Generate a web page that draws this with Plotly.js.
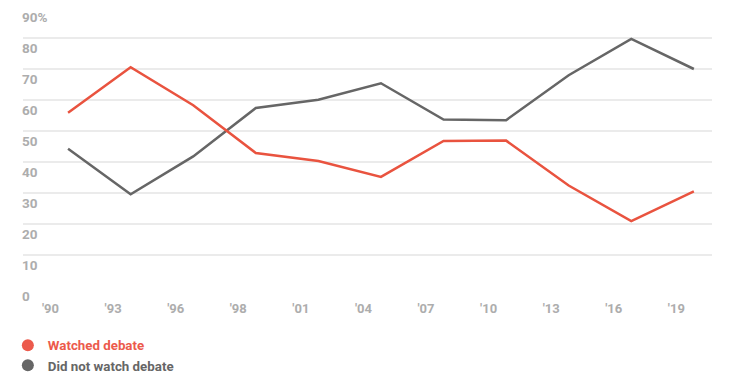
<!DOCTYPE html>
<html>
<head>
<meta charset="utf-8">
<script src="https://cdn.plot.ly/plotly-3.0.1.min.js"></script>
<style>html,body{margin:0;padding:0;background:#fff;}#chart{width:754px;height:379px;}</style>
</head>
<body>
<div id="chart"></div>
<script>
const xLabels = ["'90","'93","'96","'98","'01","'04","'07","'10","'13","'16","'19"];
const watched = [55.9, 70.6, 58.3, 42.9, 40.3, 35.2, 46.8, 46.9, 32.4, 20.9, 30.5];
const notWatched = [44.3, 29.6, 41.8, 57.4, 60.1, 65.4, 53.7, 53.5, 68.0, 79.7, 70.0];
const yTickVals = [0, 10, 20, 30, 40, 50, 60, 70, 80, 90];
const yTickText = ["0", "10", "20", "30", "40", "50", "60", "70", "80", "90%"];

const RED = "#e9533f";
const RED_TEXT = "#ec5a4c";
const GRAY = "#666666";
const TICK = "#adadad";
const FONT = "Roboto";
const idx = xLabels.map((_, i) => i);

const traces = [
  {x: idx, y: notWatched, mode: "lines", line: {color: GRAY, width: 2.5}, showlegend: false, hoverinfo: "skip"},
  {x: idx, y: watched, mode: "lines", line: {color: RED, width: 2.5}, showlegend: false, hoverinfo: "skip"},
  {x: [null], y: [null], mode: "markers", marker: {color: RED_TEXT, size: 15}, legend: "legend",
   name: '<span style="color:' + RED_TEXT + '">Watched debate</span>'},
  {x: [null], y: [null], mode: "markers", marker: {color: GRAY, size: 15}, legend: "legend2",
   name: '<span style="color:' + GRAY + '">Did not watch debate</span>'}
];

const annotations = yTickVals.map((v, i) => ({
  xref: "paper", yref: "y", x: 0, y: v, xanchor: "left", yanchor: "middle",
  xshift: -3, yshift: -10, text: yTickText[i], showarrow: false,
  font: {family: FONT, size: 13.5, color: TICK, weight: 700}
}));

const legendBase = {x: -0.022, xanchor: "left", yanchor: "top", orientation: "v",
  font: {family: FONT, size: 13.3, color: GRAY, weight: 700},
  itemsizing: "constant", bgcolor: "rgba(0,0,0,0)"};

const layout = {
  width: 754, height: 379,
  margin: {l: 23, r: 42, t: 7, b: 93, autoexpand: false},
  paper_bgcolor: "#fff", plot_bgcolor: "#fff",
  showlegend: true,
  legend: Object.assign({}, legendBase, {y: -0.158}),
  legend2: Object.assign({}, legendBase, {y: -0.23}),
  xaxis: {range: [-0.72, 10.29], tickvals: idx.map(i => i - 0.28), ticktext: xLabels,
          showgrid: false, zeroline: false, showline: false,
          ticks: "outside", ticklen: 10, tickcolor: "rgba(0,0,0,0)",
          tickfont: {family: FONT, size: 13, color: TICK, weight: 700}, fixedrange: true},
  yaxis: {range: [0, 90], tickvals: yTickVals, showticklabels: false, showgrid: true,
          gridcolor: "#ebebeb", gridwidth: 2, zeroline: false, showline: false, ticks: "", fixedrange: true},
  annotations: annotations
};

Plotly.newPlot("chart", traces, layout, {displayModeBar: false, staticPlot: true});
</script>
</body>
</html>
